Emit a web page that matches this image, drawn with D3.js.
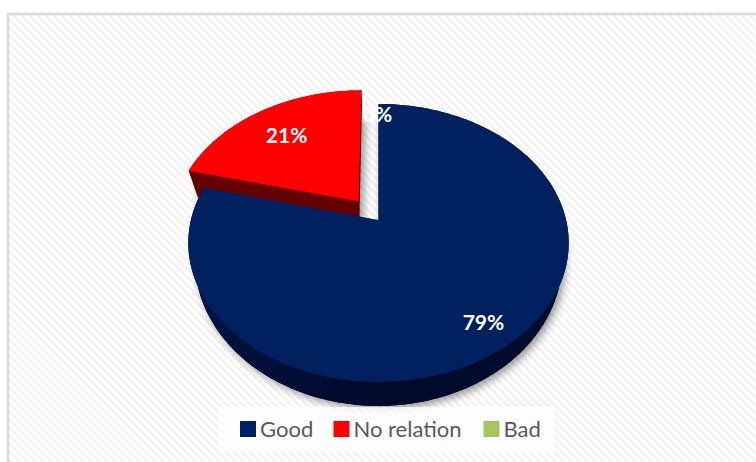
<!DOCTYPE html>
<html>
<head>
<meta charset="utf-8">
<script src="https://cdn.jsdelivr.net/npm/d3@7/dist/d3.min.js"></script>
<style>html,body{margin:0;padding:0;background:#fff;overflow:hidden}svg{display:block}text{font-family:Lato,"Open Sans",sans-serif}</style>
</head>
<body>
<script>
const categories = ["Good", "No relation", "Bad"];
const percentValues = [79, 21, 0];
const sliceColors = ["#002060", "#ff0000", "#a5c55f"];
const wallColors = ["#000c33", "#640000", "#5c7030"];

const W = 756, H = 462;
const svg = d3.select("body").append("svg").attr("width", W).attr("height", H);
const defs = svg.append("defs");

const pat = defs.append("pattern").attr("id", "stripes").attr("patternUnits", "userSpaceOnUse")
  .attr("width", 5.66).attr("height", 5.66).attr("patternTransform", "rotate(45)");
pat.append("rect").attr("width", 5.66).attr("height", 5.66).attr("fill", "#ffffff");
pat.append("rect").attr("width", 5.66).attr("height", 2.83).attr("fill", "#f3f3f3");

const grad = defs.append("linearGradient").attr("id", "wallGrad");
[[0, "#001442"], [0.3, "#000c33"], [0.5, "#000a2a"], [0.8, "#000a2a"], [1, "#000e36"]]
  .forEach(([o, c]) => grad.append("stop").attr("offset", o).attr("stop-color", c));

defs.append("filter").attr("id", "shadow").attr("x", "-15%").attr("y", "-15%").attr("width", "130%").attr("height", "130%")
  .append("feGaussianBlur").attr("stdDeviation", 4);

svg.append("rect").attr("x", 8).attr("y", 14).attr("width", W + 20).attr("height", H + 20)
  .attr("fill", "url(#stripes)").attr("stroke", "#d9d9d9").attr("stroke-width", 2.5);

// Perspective view of a tilted disc
const cx = 378.5, cy = 220, R = 187.6, A = 135.2, k = -0.165;
const depth = 16.7, bottomScale = 0.965;
const explode = [0, 0.176, 0];
const cornerDrop = [0, 12, 0];
const shadowDrop = [3, 16, 0];
const labelRadius = [0.85, 0.705, 0.9];
const labelShift = [-5, -1, -1];

const sx = d3.scaleLinear().domain([0, 1]).range([cx, cx + R]);
const sy = d3.scaleLinear().domain([0, 1]).range([cy, cy + A]);

function project(X, Y, bottom) {
  const d = 1 + k * Y;
  if (!bottom) return [sx(X / d), sy(Y / d)];
  return [sx(bottomScale * X / d), sy(Y / d) + depth / (d * d)];
}
function discPoint(angle, r, e, mid) {
  return [r * Math.sin(angle) + e * Math.sin(mid), -r * Math.cos(angle) - e * Math.cos(mid)];
}

const pie = d3.pie().sort(null)(percentValues);
const line = d3.line();
const step = Math.PI / 180;

function arcPts(a0, a1, e, mid, bottom) {
  const n = Math.max(1, Math.ceil((a1 - a0) / step));
  return d3.range(n + 1).map(i => {
    const a = a0 + (a1 - a0) * i / n;
    const p = discPoint(a, 1, e, mid);
    return project(p[0], p[1], bottom);
  });
}

const shadowG = svg.append("g").attr("filter", "url(#shadow)").attr("opacity", 0.42);
const pieG = svg.append("g");
// far slices first so that the large slice overlaps the exploded one
const order = [2, 1, 0];
order.forEach(i => {
  const s = pie[i];
  if (s.endAngle - s.startAngle <= 0) return;
  const e = explode[i], mid = (s.startAngle + s.endAngle) / 2;
  const apexDisc = discPoint(0, 0, e, mid);
  const apexTop = project(apexDisc[0], apexDisc[1], false);
  const apexBot = project(apexDisc[0], apexDisc[1], true);
  const top = arcPts(s.startAngle, s.endAngle, e, mid, false);
  const bot = arcPts(s.startAngle, s.endAngle, e, mid, true);

  // soft shadow cast by the underside of the slice
  shadowG.append("path").attr("d", line([apexBot, ...bot]) + "Z").attr("fill", "#000")
    .attr("transform", `translate(3,${shadowDrop[i]})`);

  // outer wall
  pieG.append("path").attr("d", line(top.concat(bot.slice().reverse())) + "Z")
    .attr("fill", i === 0 ? "url(#wallGrad)" : wallColors[i]);
  // bottom plane to close the side view
  pieG.append("path").attr("d", line([apexBot, ...bot]) + "Z")
    .attr("fill", i === 0 ? "url(#wallGrad)" : wallColors[i]);
  // radial wall at the start of the slice
  const corner = [bot[0][0] + cornerDrop[i] * 0.2, bot[0][1] + cornerDrop[i]];
  pieG.append("path").attr("d", line([apexTop, top[0], corner, apexBot]) + "Z")
    .attr("fill", wallColors[i]);
  // top face
  pieG.append("path").attr("d", line([apexTop, ...top]) + "Z").attr("fill", sliceColors[i]);
});

// data labels
const labelG = svg.append("g");
pie.forEach((s, i) => {
  const mid = (s.startAngle + s.endAngle) / 2;
  const angle = s.endAngle - s.startAngle <= 0 ? 0 : mid;
  const p = discPoint(angle, labelRadius[i], explode[i], angle);
  const q = project(p[0], p[1], false);
  labelG.append("text").attr("x", q[0] + labelShift[i]).attr("y", q[1]).attr("dy", "0.36em")
    .attr("text-anchor", "middle").attr("font-size", 21).attr("font-weight", 700)
    .attr("fill", "#fff").text(percentValues[i] + "%");
});

// legend
svg.append("rect").attr("x", 219).attr("y", 407).attr("width", 336).attr("height", 45)
  .attr("fill", "#fff").attr("fill-opacity", 0.75);
const legendX = d3.scaleOrdinal().domain(categories).range([240, 333.5, 483.5]);
const legend = svg.append("g").selectAll("g").data(categories).join("g")
  .attr("transform", d => `translate(${legendX(d)},421)`);
legend.append("rect").attr("width", 16).attr("height", 16).attr("fill", (d, i) => sliceColors[i]);
legend.append("text").attr("x", 20).attr("y", 15.5).attr("font-size", 22).attr("fill", "#595959").text(d => d);
</script>
</body>
</html>
